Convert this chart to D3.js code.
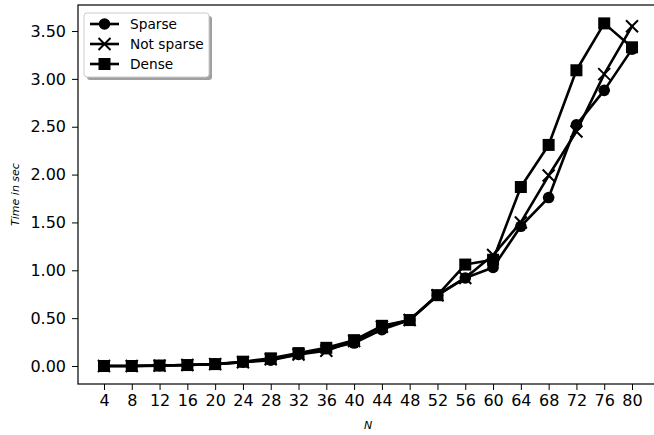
<!DOCTYPE html>
<html><head><meta charset="utf-8">
<script src="https://cdn.jsdelivr.net/npm/d3@7"></script>
<style>
html,body{margin:0;padding:0;background:#fff;overflow:hidden}
text{font-family:"DejaVu Sans",sans-serif}
</style></head>
<body>
<svg id="chart" width="654" height="435"></svg>
<script>
const N = [4,8,12,16,20,24,28,32,36,40,44,48,52,56,60,64,68,72,76,80];
const sparse    = [0.00,0.00,0.004,0.01,0.02,0.04,0.06,0.12,0.18,0.24,0.38,0.48,0.74,0.92,1.03,1.46,1.76,2.52,2.88,3.31];
const notSparse = [0.00,0.00,0.004,0.01,0.02,0.04,0.07,0.12,0.16,0.26,0.41,0.48,0.74,0.92,1.16,1.50,1.99,2.45,3.05,3.55];
const dense     = [0.00,0.00,0.005,0.01,0.02,0.045,0.08,0.135,0.19,0.27,0.42,0.48,0.74,1.06,1.11,1.87,2.31,3.09,3.58,3.33];
const seriesNames = ["Sparse","Not sparse","Dense"];
const seriesMarkers = ["circle","cross","square"];
const yTicks = [0,0.5,1,1.5,2,2.5,3,3.5];

const svg = d3.select("#chart");
const L = 78, R = 658, T = 5, B = 384;
const x = d3.scaleLinear().domain([0.26, 83.74]).range([L, R]);
const y = d3.scaleLinear().domain([-0.188, 3.772]).range([B, T]);

// axes
const xAxis = d3.axisBottom(x).tickValues(N).tickSize(6).tickPadding(5).tickFormat(d3.format("d"));
const yAxis = d3.axisLeft(y).tickValues(yTicks).tickSize(6).tickPadding(6).tickFormat(d3.format(".2f"));
const gx = svg.append("g").attr("transform",`translate(0,${B})`).call(xAxis);
const gy = svg.append("g").attr("transform",`translate(${L},0)`).call(yAxis);
[gx,gy].forEach(g=>{
  g.select(".domain").remove();
  g.selectAll(".tick line").attr("stroke","#000").attr("stroke-width",1);
  g.selectAll(".tick text").attr("fill","#000").style("font-size","16px").style("font-family","DejaVu Sans");
});
gx.selectAll(".tick text").attr("dy","0.71em");

// data lines
const all = [sparse, notSparse, dense];
const line = d3.line().x((d,i)=>x(N[i])).y(d=>y(d));
const plot = svg.append("g");
function marker(g, type, cx, cy){
  if(type==="circle") g.append("circle").attr("cx",cx).attr("cy",cy).attr("r",5.8).attr("fill","#000");
  else if(type==="square") g.append("rect").attr("x",cx-6).attr("y",cy-6).attr("width",12).attr("height",12).attr("fill","#000");
  else {
    const s=6;
    g.append("path").attr("d",`M${cx-s},${cy-s}L${cx+s},${cy+s}M${cx-s},${cy+s}L${cx+s},${cy-s}`)
     .attr("stroke","#000").attr("stroke-width",2).attr("fill","none");
  }
}
all.forEach((vals,k)=>{
  const g = plot.append("g");
  g.append("path").datum(vals).attr("d",line).attr("fill","none").attr("stroke","#000")
   .attr("stroke-width",2.6).attr("stroke-linejoin","round").attr("stroke-linecap","square");
  vals.forEach((v,i)=>marker(g, seriesMarkers[k], x(N[i]), y(v)));
});

// spines
svg.append("rect").attr("x",L).attr("y",T).attr("width",R-L).attr("height",B-T)
  .attr("fill","none").attr("stroke","#000").attr("stroke-width",1.2);

// labels
svg.append("text").attr("transform",`translate(19,${(T+B)/2}) rotate(-90)`).attr("text-anchor","middle")
  .style("font-size","11px").style("font-style","italic").text("Time in sec");
svg.append("text").attr("x",(L+R)/2).attr("y",429).attr("text-anchor","middle")
  .style("font-size","11px").style("font-style","italic").text("N");

// legend
const lg = svg.append("g");
lg.append("rect").attr("x",87).attr("y",16).attr("width",125).attr("height",64).attr("rx",3)
  .attr("fill","#888").attr("opacity",0.8);
lg.append("rect").attr("x",84).attr("y",13).attr("width",125).attr("height",64).attr("rx",3)
  .attr("fill","#fff").attr("stroke","#ccc").attr("stroke-width",1);
seriesNames.forEach((name,k)=>{
  const yy = 24 + k*20;
  lg.append("line").attr("x1",90).attr("x2",119).attr("y1",yy).attr("y2",yy).attr("stroke","#000").attr("stroke-width",2.6);
  marker(lg, seriesMarkers[k], 104.5, yy);
  lg.append("text").attr("x",130).attr("y",yy).attr("dy","0.35em").style("font-size","13.7px").attr("fill","#000").text(name);
});
</script>
</body></html>
